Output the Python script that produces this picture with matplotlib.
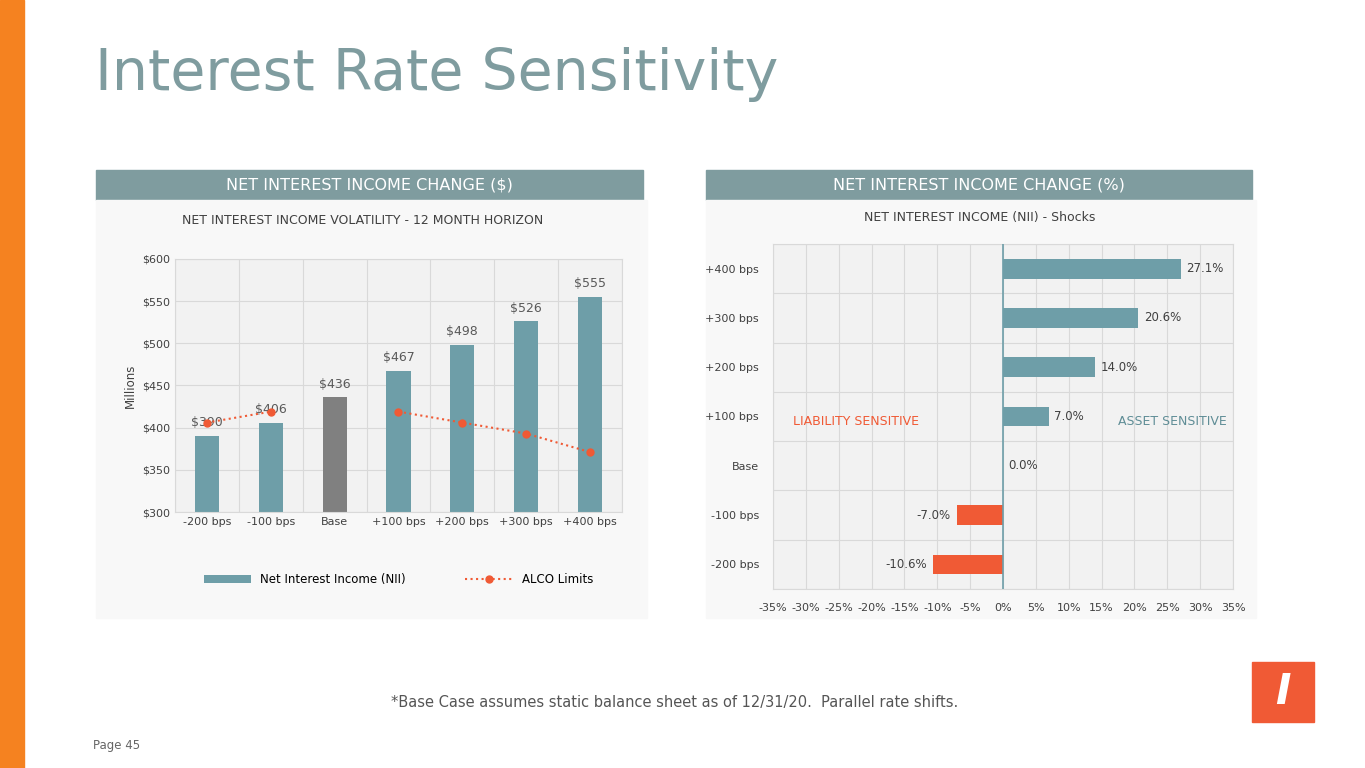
import matplotlib.pyplot as plt
import numpy as np
from matplotlib.patches import Rectangle

W, H = 1365, 768

scenarios = ['-200 bps', '-100 bps', 'Base', '+100 bps', '+200 bps', '+300 bps', '+400 bps']
nii = [390, 406, 436, 467, 498, 526, 555]
alco = [406, 419, np.nan, 419, 406, 393, 371]

shock_labels = ['-200 bps', '-100 bps', 'Base', '+100 bps', '+200 bps', '+300 bps', '+400 bps']
shock_pct = [-10.6, -7.0, 0.0, 7.0, 14.0, 20.6, 27.1]

teal = '#6e9ea8'
orange = '#f05a35'
grid_bg = '#f2f2f2'
header = '#7f9c9f'


def box(x0, y0, x1, y1):
    # pixel coords (top-left origin) -> figure fraction
    return [x0 / W, 1 - y1 / H, (x1 - x0) / W, (y1 - y0) / H]


fig = plt.figure(figsize=(W / 100, H / 100), dpi=100)
fig.patch.set_facecolor('white')
bg = fig.add_axes([0, 0, 1, 1])
bg.set_xlim(0, W)
bg.set_ylim(H, 0)
bg.axis('off')

bg.add_patch(Rectangle((0, 0), 24, H, color='#f58220'))
bg.text(95, 75, 'Interest Rate Sensitivity', fontsize=41, color='#7f9c9f',
        va='center', ha='left')

for x0, x1, title in [(96, 643, 'NET INTEREST INCOME CHANGE ($)'),
                      (706, 1252, 'NET INTEREST INCOME CHANGE (%)')]:
    bg.add_patch(Rectangle((x0, 170), x1 - x0, 30, color=header))
    bg.text((x0 + x1) / 2, 185, title, color='white', fontsize=11.5,
            ha='center', va='center')
    bg.add_patch(Rectangle((x0, 200), x1 - x0 + 4, 418, color='#f8f8f8'))

bg.text(363, 221, 'NET INTEREST INCOME VOLATILITY - 12 MONTH HORIZON',
        fontsize=9, color='#404040', ha='center', va='center')
bg.text(980, 218, 'NET INTEREST INCOME (NII) - Shocks',
        fontsize=9, color='#404040', ha='center', va='center')
bg.text(675, 703, '*Base Case assumes static balance sheet as of 12/31/20.  Parallel rate shifts.',
        fontsize=10.5, color='#555555', ha='center', va='center')
bg.text(93, 746, 'Page 45', fontsize=8.5, color='#666666', ha='left', va='center')

# logo
bg.add_patch(Rectangle((1252, 662), 62, 60, color=orange))
bg.text(1283, 692, 'I', fontsize=30, color='white', ha='center', va='center',
        fontweight='bold', style='italic')

# left chart
ax = fig.add_axes(box(175, 259, 622, 512))
ax.set_facecolor(grid_bg)
x = np.arange(len(scenarios))
colors = [teal] * len(nii)
colors[2] = '#808080'
bars = ax.bar(x, nii, width=0.38, color=colors, zorder=2)
for xi, v in zip(x, nii):
    ax.text(xi, v + 8, f'${v}', ha='center', va='bottom', fontsize=9, color='#595959')
line, = ax.plot(x, alco, color=orange, linestyle=':', linewidth=1.5, marker='o',
                markersize=5, zorder=3)
ax.set_ylim(300, 600)
ax.set_xlim(-0.5, len(x) - 0.5)
ax.set_yticks(range(300, 601, 50))
ax.set_yticklabels([f'${v}' for v in range(300, 601, 50)])
ax.set_xticks(x)
ax.set_xticklabels(scenarios)
ax.set_xticks(np.arange(-0.5, len(x)), minor=True)
ax.grid(True, which='minor', axis='x', color='#d9d9d9', zorder=0)
ax.grid(True, which='major', axis='y', color='#d9d9d9', zorder=0)
ax.tick_params(length=0, labelsize=8, colors='#404040', which='both')
for s in ax.spines.values():
    s.set_color('#d9d9d9')
ax.set_ylabel('Millions', fontsize=8.5, color='#404040')
ax.legend([bars, line], ['Net Interest Income (NII)', 'ALCO Limits'],
          loc='upper center', bbox_to_anchor=(0.5, -0.2), ncol=2, frameon=False,
          fontsize=8.5, handlelength=4, columnspacing=5)

# right chart
ax2 = fig.add_axes(box(773, 244, 1233, 589))
ax2.set_facecolor(grid_bg)
y = np.arange(len(shock_labels))
bcol = [orange if v < 0 else teal for v in shock_pct]
ax2.barh(y, shock_pct, height=0.4, color=bcol, zorder=2)
for yi, v in zip(y, shock_pct):
    if v >= 0:
        ax2.text(v + 0.8, yi, f'{v:.1f}%', va='center', ha='left', fontsize=8.5, color='#404040')
    else:
        ax2.text(v - 1, yi, f'{v:.1f}%', va='center', ha='right', fontsize=8.5, color='#404040')
ax2.axvline(0, color='#6e9ea8', linewidth=1.2, zorder=3)
ax2.set_xlim(-35, 35)
ax2.set_ylim(-0.5, len(y) - 0.5)
ax2.set_xticks(range(-35, 36, 5))
ax2.set_xticklabels([f'{v}%' for v in range(-35, 36, 5)])
ax2.set_yticks(y)
ax2.set_yticklabels(shock_labels)
ax2.set_yticks(np.arange(-0.5, len(y)), minor=True)
ax2.grid(True, which='major', axis='x', color='#d9d9d9', zorder=0)
ax2.grid(True, which='minor', axis='y', color='#d9d9d9', zorder=0)
ax2.tick_params(length=0, labelsize=8, colors='#404040', which='both', pad=10)
for s in ax2.spines.values():
    s.set_color('#d9d9d9')
ax2.text(-32, 2.9, 'LIABILITY SENSITIVE', color=orange, fontsize=9, va='center')
ax2.text(34, 2.9, 'ASSET SENSITIVE', color='#5f8d96', fontsize=9, va='center', ha='right')

fig.savefig('out.png', dpi=100)
